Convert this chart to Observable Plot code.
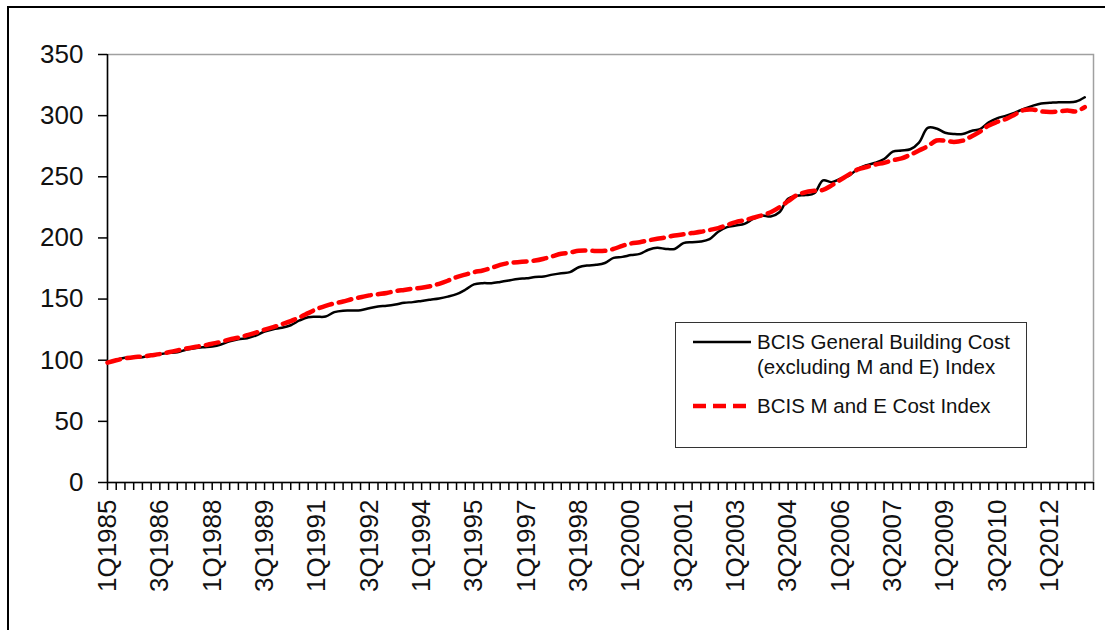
<!DOCTYPE html>
<html>
<head>
<meta charset="utf-8">
<script src="https://cdn.jsdelivr.net/npm/d3@7"></script>
<script src="https://cdn.jsdelivr.net/npm/@observablehq/plot@0.6"></script>
<style>
  html, body { margin: 0; padding: 0; background: #fff; }
  body { width: 1105px; height: 630px; position: relative; overflow: hidden; font-family: "Liberation Sans", Arial, sans-serif; }
  #frame { position: absolute; left: 7px; top: 6px; width: 1200px; height: 700px; border: 2px solid #000; box-sizing: border-box; pointer-events: none; }
  #chart { position: absolute; left: 0; top: 0; }
  #legend { position: absolute; left: 675px; top: 322px; width: 352px; height: 126px; border: 1.5px solid #333; box-sizing: border-box; background: #fff; color: #111; font-size: 20.5px; }
  #legend .t { position: absolute; left: 81px; line-height: 24px; white-space: nowrap; }
  #legend svg { position: absolute; left: 16px; }
</style>
</head>
<body>
<div id="chart"></div>
<div id="frame"></div>
<div id="legend">
  <svg width="60" height="10" style="top:14px"><line x1="1" y1="5" x2="59" y2="5" stroke="#000" stroke-width="2.5"/></svg>
  <div class="t" style="top:7px">BCIS General Building Cost</div>
  <div class="t" style="top:32px">(excluding M and E) Index</div>
  <svg width="60" height="10" style="top:78px"><line x1="1" y1="5" x2="59" y2="5" stroke="#ff0000" stroke-width="4.5" stroke-dasharray="13,7"/></svg>
  <div class="t" style="top:71px">BCIS M and E Cost Index</div>
</div>
<script>
// Quarter categories 1Q1985 .. 1Q2013
const quarters = [];
for (let y = 1985; y <= 2013; y++) for (let q = 1; q <= 4; q++) if (quarters.length < 113) quarters.push(`${q}Q${y}`);

const tickLabels = ["1Q1985","3Q1986","1Q1988","3Q1989","1Q1991","3Q1992","1Q1994","3Q1995","1Q1997","3Q1998",
  "1Q2000","3Q2001","1Q2003","3Q2004","1Q2006","3Q2007","1Q2009","3Q2010","1Q2012"];

const yTicks = [0, 50, 100, 150, 200, 250, 300, 350];

const seriesNames = ["BCIS General Building Cost (excluding M and E) Index", "BCIS M and E Cost Index"];

const generalBuilding = [
  98.4,100.3,102,102,102.5,103.8,105,106,106.5,108.5,
  109.8,110.6,111.2,112.8,115.5,117.2,118,120.2,123.5,125.4,
  126.5,128.6,132.5,135.2,135.5,135.7,139.3,140.5,140.6,140.8,
  142.5,144,144.5,145.5,147,147.5,148.5,149.5,150.5,152,
  154,157.6,162,163,163,164,165.2,166.5,167,168,
  168.5,170,171.2,172,176,177.5,178,179.5,183.7,184.5,
  186,187,190.3,191.9,191,191,195.7,196.5,197,199,
  205,208.8,210.2,211.5,215.6,218.3,217.5,221,232,234.5,
  235,236.5,247,245.6,248.4,251,256.5,259.5,261.5,264.5,
  270.5,271.5,272.5,278,290,289.5,286,285,285,287.5,
  289,294.5,298,300,302.5,305.5,308,310,310.5,311,
  311,311.5,315
];

const mAndE = [
  98,100,101.5,102.5,103,104,105,106.5,108,109.5,
  110.8,112,113.5,115,117,118.5,120.5,122.5,125,127,
  129.5,132,135,138.5,142,144.5,146.5,148,150,151.5,
  153,154,155,156.5,157.5,158.5,159.2,160.5,162.5,165,
  168,170,172,173.4,175.5,178,179.5,180.2,180.8,181.5,
  183,185,187,188,189.5,189.7,189.3,189.5,191,193.5,
  195.5,196.5,198,199.3,200.5,202,203,204,205,206.5,
  208,210.5,212.9,214.5,216.5,218.5,221,225,230,235,
  237.4,238.5,239.3,243,247.5,252,256,258,260,261.5,
  263.5,265,268,271.5,275,279.7,279.5,278.5,279.5,283,
  287,292,295,297.4,301,304.5,305,303.5,303,303.5,
  304.2,303.5,307
];

const gb = generalBuilding.map((v, i) => ({i, v}));
const me = mAndE.map((v, i) => ({i, v}));
const allTicks = d3.range(0, quarters.length + 1);
const labelTicks = tickLabels.map(l => quarters.indexOf(l));

const chart = Plot.plot({
  width: 1105,
  height: 630,
  marginLeft: 107,
  marginRight: 12,
  marginTop: 54,
  marginBottom: 148,
  style: {fontFamily: "'Liberation Sans', Arial, sans-serif", color: "#111", background: "#fff"},
  x: {type: "linear", domain: [0, quarters.length], axis: null},
  y: {domain: [0, 350], axis: null},
  marks: [
    Plot.frame({stroke: "#a0a0a0", strokeWidth: 1.5}),
    Plot.axisY({ticks: yTicks, tickSize: 9, tickPadding: 15, fontSize: 26, stroke: "#000", strokeWidth: 1.5, label: null, tickFormat: d => String(d)}),
    Plot.axisX({ticks: allTicks, tickSize: 8, stroke: "#000", strokeWidth: 1.5, label: null, tickFormat: () => ""}),
    Plot.axisX({ticks: labelTicks, tickSize: 0, tickPadding: 17, tickRotate: -90, fontSize: 26, label: null, tickFormat: i => quarters[i]}),
    Plot.ruleX([0], {stroke: "#000", strokeWidth: 1.5}),
    Plot.ruleY([0], {stroke: "#000", strokeWidth: 1.5}),
    Plot.line(gb, {x: "i", y: "v", stroke: "#000", strokeWidth: 2.5, curve: "catmull-rom"}),
    Plot.line(me, {x: "i", y: "v", stroke: "#ff0000", strokeWidth: 4.5, strokeDasharray: "13,7", curve: "catmull-rom"})
  ]
});
document.getElementById("chart").appendChild(chart);
</script>
</body>
</html>
